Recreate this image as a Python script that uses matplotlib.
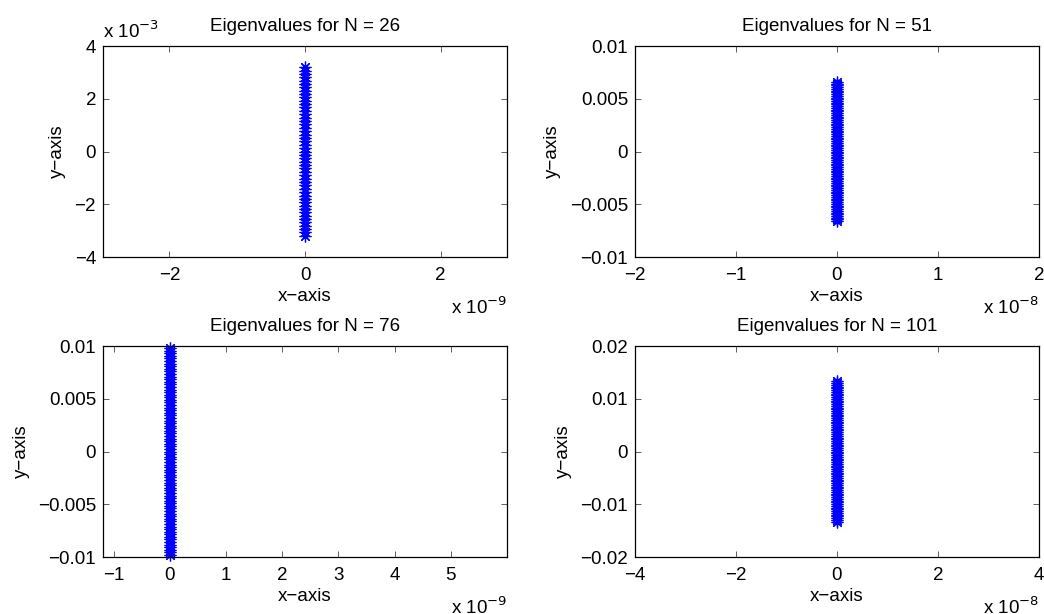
import numpy as np
import matplotlib.pyplot as plt
from matplotlib.ticker import FuncFormatter

plt.rcParams['font.family'] = ['Liberation Sans', 'DejaVu Sans']
plt.rcParams['font.size'] = 13.5

# eigenvalues (imag parts, in units of 1e-3); real parts are ~0
N_values = [26, 51, 76, 101]

im_26 = [-3.20, -3.07, -2.94, -2.82, -2.69, -2.56, -2.43, -2.31, -2.18, -2.05, -1.92, -1.80, -1.67,
         -1.54, -1.41, -1.28, -1.16, -1.03, -0.90, -0.77, -0.64, -0.51, -0.39, -0.26, -0.13, 0.0,
         0.13, 0.26, 0.39, 0.51, 0.64, 0.77, 0.90, 1.03, 1.16, 1.28, 1.41, 1.54, 1.67, 1.80,
         1.92, 2.05, 2.18, 2.31, 2.43, 2.56, 2.69, 2.82, 2.94, 3.07, 3.20]
im_51 = [-6.60, -6.43, -6.27, -6.10, -5.94, -5.78, -5.61, -5.45, -5.28, -5.12, -4.95, -4.79, -4.62,
         -4.46, -4.29, -4.13, -3.96, -3.80, -3.63, -3.47, -3.30, -3.14, -2.97, -2.81, -2.64, -2.48,
         -2.31, -2.15, -1.98, -1.82, -1.65, -1.49, -1.32, -1.16, -0.99, -0.83, -0.66, -0.50, -0.33,
         -0.17, 0.0, 0.17, 0.33, 0.50, 0.66, 0.83, 0.99, 1.16, 1.32, 1.49, 1.65, 1.82, 1.98, 2.15,
         2.31, 2.48, 2.64, 2.81, 2.97, 3.14, 3.30, 3.47, 3.63, 3.80, 3.96, 4.13, 4.29, 4.46, 4.62,
         4.79, 4.95, 5.12, 5.28, 5.45, 5.61, 5.78, 5.94, 6.10, 6.27, 6.43, 6.60]
im_76 = [-9.80, -9.56, -9.31, -9.07, -8.82, -8.58, -8.33, -8.09, -7.84, -7.60, -7.35, -7.11, -6.86,
         -6.62, -6.37, -6.13, -5.88, -5.64, -5.39, -5.15, -4.90, -4.66, -4.41, -4.17, -3.92, -3.68,
         -3.43, -3.19, -2.94, -2.70, -2.45, -2.21, -1.96, -1.72, -1.47, -1.23, -0.98, -0.74, -0.49,
         -0.25, 0.0, 0.25, 0.49, 0.74, 0.98, 1.23, 1.47, 1.72, 1.96, 2.21, 2.45, 2.70, 2.94, 3.19,
         3.43, 3.68, 3.92, 4.17, 4.41, 4.66, 4.90, 5.15, 5.39, 5.64, 5.88, 6.13, 6.37, 6.62, 6.86,
         7.11, 7.35, 7.60, 7.84, 8.09, 8.33, 8.58, 8.82, 9.07, 9.31, 9.56, 9.80]
im_101 = [-13.30, -12.97, -12.64, -12.30, -11.97, -11.64, -11.31, -10.97, -10.64, -10.31, -9.98,
          -9.64, -9.31, -8.98, -8.65, -8.31, -7.98, -7.65, -7.32, -6.98, -6.65, -6.32, -5.99, -5.65,
          -5.32, -4.99, -4.66, -4.32, -3.99, -3.66, -3.33, -2.99, -2.66, -2.33, -2.00, -1.66, -1.33,
          -1.00, -0.67, -0.33, 0.0, 0.33, 0.67, 1.00, 1.33, 1.66, 2.00, 2.33, 2.66, 2.99, 3.33, 3.66,
          3.99, 4.32, 4.66, 4.99, 5.32, 5.65, 5.99, 6.32, 6.65, 6.98, 7.32, 7.65, 7.98, 8.31, 8.65,
          8.98, 9.31, 9.64, 9.98, 10.31, 10.64, 10.97, 11.31, 11.64, 11.97, 12.30, 12.64, 12.97, 13.30]
imag_parts = [im_26, im_51, im_76, im_101]

x_limits = [(-2.98e-9, 2.98e-9), (-2e-8, 2e-8), (-1.19e-9, 6.0e-9), (-4e-8, 4e-8)]
x_ticks = [[-2e-9, 0, 2e-9], [-2e-8, -1e-8, 0, 1e-8, 2e-8],
           [-1e-9, 0, 1e-9, 2e-9, 3e-9, 4e-9, 5e-9], [-4e-8, -2e-8, 0, 2e-8, 4e-8]]
x_exp = [-9, -8, -9, -8]
y_limits = [(-4e-3, 4e-3), (-0.01, 0.01), (-0.01, 0.01), (-0.02, 0.02)]
y_ticks = [[-4e-3, -2e-3, 0, 2e-3, 4e-3], [-0.01, -0.005, 0, 0.005, 0.01],
           [-0.01, -0.005, 0, 0.005, 0.01], [-0.02, -0.01, 0, 0.01, 0.02]]

fig = plt.figure(figsize=(10.44, 6.14), dpi=100)
positions = [[0.0987, 0.5814, 0.387, 0.3436], [0.6082, 0.5814, 0.387, 0.3436],
             [0.0987, 0.0928, 0.387, 0.3436], [0.6082, 0.0928, 0.387, 0.3436]]


def fmt_num(v):
    s = ('%g' % v).replace('-', '\u2212')
    return s


for i in range(4):
    ax = fig.add_axes(positions[i])
    y = np.array(imag_parts[i]) * 1e-3
    x = [0.0] * len(y)
    ax.plot(x, y, linestyle='none', marker=(8, 2, 0), markersize=8.5, markeredgewidth=0.9,
            color='#0000ff', clip_on=False)
    ax.set_xlim(x_limits[i])
    ax.set_ylim(y_limits[i])
    ax.set_xticks(x_ticks[i])
    ax.set_yticks(y_ticks[i])
    e = x_exp[i]
    ax.xaxis.set_major_formatter(FuncFormatter(lambda v, p, e=e: fmt_num(round(v / 10.0**e, 6))))
    if i == 0:
        ax.yaxis.set_major_formatter(FuncFormatter(lambda v, p: fmt_num(round(v * 1e3, 6))))
        ax.text(0.0, 1.02, 'x 10$^{\u22123}$', transform=ax.transAxes, ha='left', va='bottom')
    else:
        ax.yaxis.set_major_formatter(FuncFormatter(lambda v, p: fmt_num(round(v, 6))))
    ax.text(1.0, -0.185, 'x 10$^{\u2212%d}$' % (-e), transform=ax.transAxes, ha='right', va='top')
    ax.tick_params(direction='in', top=True, right=True, length=4, width=0.6, color='#444444',
                   labelsize=13.5)
    ax.tick_params(axis='x', pad=7)
    ax.tick_params(axis='y', pad=5)
    for sp in ax.spines.values():
        sp.set_linewidth(0.9)
    ax.set_title('Eigenvalues for N = %d' % N_values[i], fontsize=13.5, pad=11)
    ax.set_xlabel('x\u2212axis', labelpad=3)
    ax.set_ylabel('y\u2212axis', labelpad=6)

fig.savefig('out.png', dpi=100)
